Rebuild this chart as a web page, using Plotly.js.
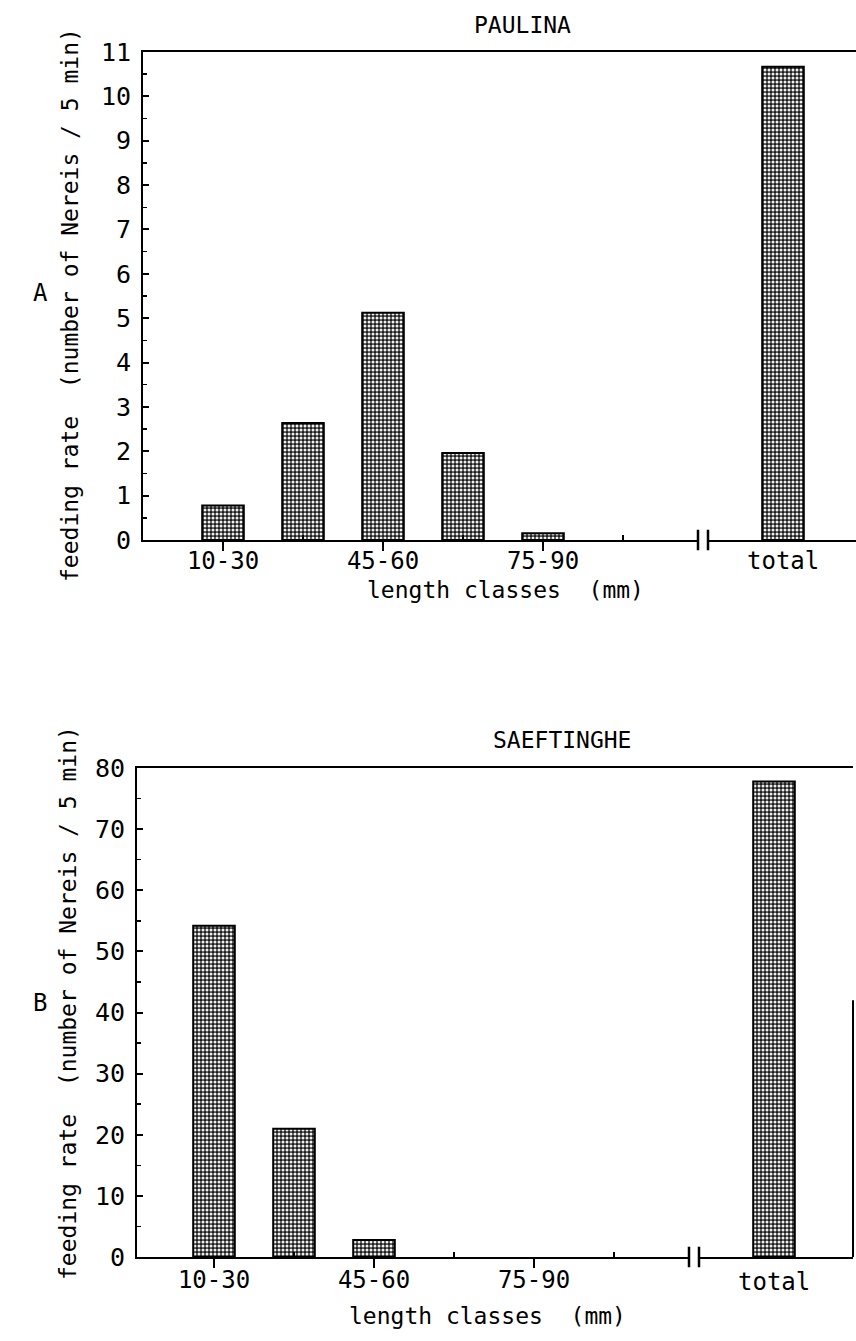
<!DOCTYPE html>
<html>
<head>
<meta charset="utf-8">
<script src="https://cdn.plot.ly/plotly-3.0.1.min.js"></script>
<style>html,body{margin:0;padding:0;background:#fff;}#chart{width:856px;height:1341px;}</style>
</head>
<body>
<div id="chart"></div>
<script>
// ---- data ----
const lengthClasses = ['10-30', '30-45', '45-60', '60-75', '75-90'];
const labeledClasses = ['10-30', '45-60', '75-90'];
const totalLabel = 'total';
const paulinaRates = [0.78, 2.64, 5.12, 1.96, 0.15];
const paulinaTotal = 10.67;
const saeftingheRates = [54.2, 21.0, 2.8, 0, 0];
const saeftingheTotal = 77.8;
const siteNames = ['PAULINA', 'SAEFTINGHE'];
const panelLetters = ['A', 'B'];
const yTitle = 'feeding rate  (number of Nereis / 5 min)';
const xTitle = 'length classes  (mm)';
const yTicksA = [0,1,2,3,4,5,6,7,8,9,10,11];
const yTicksB = [0,10,20,30,40,50,60,70,80];

// ---- derived positions ----
const classPos = lengthClasses.map((c, i) => i);
const breakPos = lengthClasses.length + 1;
const totalPos = lengthClasses.length + 2;
const labelPos = classPos.filter(i => labeledClasses.includes(lengthClasses[i]));
const labelTxt = labelPos.map(i => lengthClasses[i]);
const minorPos = classPos.filter(i => !labeledClasses.includes(lengthClasses[i])).concat([lengthClasses.length]);

const FONT = 'DejaVu Sans Mono, monospace';
const W = 856, H = 1341;

function barTrace(vals, total, xa, ya) {
  const ys = vals.concat([total]);
  return {
    type: 'bar',
    x: classPos.concat([totalPos]),
    y: ys,
    width: 0.52,
    marker: {
      color: '#2a2a2a',
      line: {color: '#000', width: ys.map(v => v > 0 ? 2 : 0)},
      pattern: {shape: '.', fgcolor: '#f0f0f0', bgcolor: '#1e1e1e', size: 4, solidity: 0.45}
    },
    xaxis: xa, yaxis: ya,
    hoverinfo: 'skip',
    showlegend: false
  };
}

const traces = [
  barTrace(paulinaRates, paulinaTotal, 'x', 'y'),
  barTrace(saeftingheRates, saeftingheTotal, 'x2', 'y2')
];

function xAxis(domain, range, anchor, standoff) {
  return {
    domain: domain, range: range, anchor: anchor,
    showline: true, linecolor: '#000', linewidth: 2, mirror: true,
    showgrid: false, zeroline: false,
    tickmode: 'array', tickvals: labelPos, ticktext: labelTxt,
    ticks: 'outside', ticklen: 9, tickwidth: 2, tickcolor: '#000',
    minor: {tickmode: 'array', tickvals: minorPos, ticks: 'inside', ticklen: 5, tickwidth: 2, tickcolor: '#000'},
    tickfont: {family: FONT, size: 24, color: '#000'},
    ticklabelstandoff: standoff,
    fixedrange: true
  };
}
function yAxis(domain, range, ticks, minorDt, anchor) {
  return {
    domain: domain, range: range, anchor: anchor,
    showline: true, linecolor: '#000', linewidth: 2,
    showgrid: false, zeroline: false,
    tickmode: 'array', tickvals: ticks,
    ticks: 'inside', ticklen: 6, tickwidth: 2, tickcolor: '#000',
    minor: {dtick: minorDt, ticks: 'inside', ticklen: 4, tickwidth: 1.5, tickcolor: '#000'},
    tickfont: {family: FONT, size: 25, color: '#000'},
    ticklabelstandoff: 5,
    fixedrange: true
  };
}

function breakShapes(xa, ya, range) {
  const f = v => (v - range[0]) / (range[1] - range[0]);
  const d = 0.0625;
  const s = [];
  s.push({type: 'rect', xref: xa + ' domain', yref: ya + ' domain', x0: f(breakPos - d), x1: f(breakPos + d), y0: -0.006, y1: 0.006, fillcolor: '#fff', line: {width: 0}, layer: 'above'});
  [breakPos - d, breakPos + d].forEach(p => {
    s.push({type: 'line', xref: xa + ' domain', yref: ya + ' domain', x0: f(p), x1: f(p), y0: -0.021, y1: 0.021, line: {color: '#000', width: 2.5}, layer: 'above'});
  });
  return s;
}

const rangeA = [-1, 7.9125];
const rangeB = [-0.9625, 7.9875];
const domXA = [143 / W, 1];
const domXB = [137 / W, 853 / W];
const domYA = [1 - 540 / H, 1 - 52 / H];
const domYB = [1 - 1257 / H, 1 - 768 / H];

const ann = [];
function addText(text, x, y, size, angle) {
  ann.push({text: text, xref: 'paper', yref: 'paper', x: x / W, y: 1 - y / H, xanchor: 'center', yanchor: 'middle',
    showarrow: false, textangle: angle || 0, font: {family: FONT, size: size, color: '#000'}});
}
addText(siteNames[0], 522, 25, 23);
addText(siteNames[1], 562, 740, 23);
addText(panelLetters[0], 40, 293, 24);
addText(panelLetters[1], 40, 1003, 24);
addText(yTitle, 70, 305, 23, -90);
addText(yTitle, 68, 1003, 23, -90);
addText(xTitle, 505, 590, 23);
addText(xTitle, 487, 1316, 23);
ann.push({text: totalLabel, xref: 'x', yref: 'y domain', x: totalPos, y: 0, yanchor: 'top', yshift: -5, showarrow: false, font: {family: FONT, size: 24, color: '#000'}});
ann.push({text: totalLabel, xref: 'x2', yref: 'y2 domain', x: totalPos, y: 0, yanchor: 'top', yshift: -9, showarrow: false, font: {family: FONT, size: 24, color: '#000'}});

const shapes = breakShapes('x', 'y', rangeA).concat(breakShapes('x2', 'y2', rangeB));
// cropped edge line at right of lower panel
shapes.push({type: 'line', xref: 'x2 domain', yref: 'y2 domain', x0: 1, x1: 1, y0: 0, y1: 0.525, line: {color: '#000', width: 2}, layer: 'above'});

const layout = {
  width: W, height: H,
  margin: {l: 0, r: 0, t: 0, b: 0},
  paper_bgcolor: '#fff', plot_bgcolor: '#fff',
  showlegend: false,
  bargap: 0,
  xaxis: xAxis(domXA, rangeA, 'y', -11),
  yaxis: yAxis(domYA, [0, 11], yTicksA, 0.5, 'x'),
  xaxis2: xAxis(domXB, rangeB, 'y2', -9),
  yaxis2: yAxis(domYB, [0, 80], yTicksB, 5, 'x2'),
  annotations: ann,
  shapes: shapes
};

Plotly.newPlot('chart', traces, layout, {staticPlot: true, displayModeBar: false});
</script>
</body>
</html>
